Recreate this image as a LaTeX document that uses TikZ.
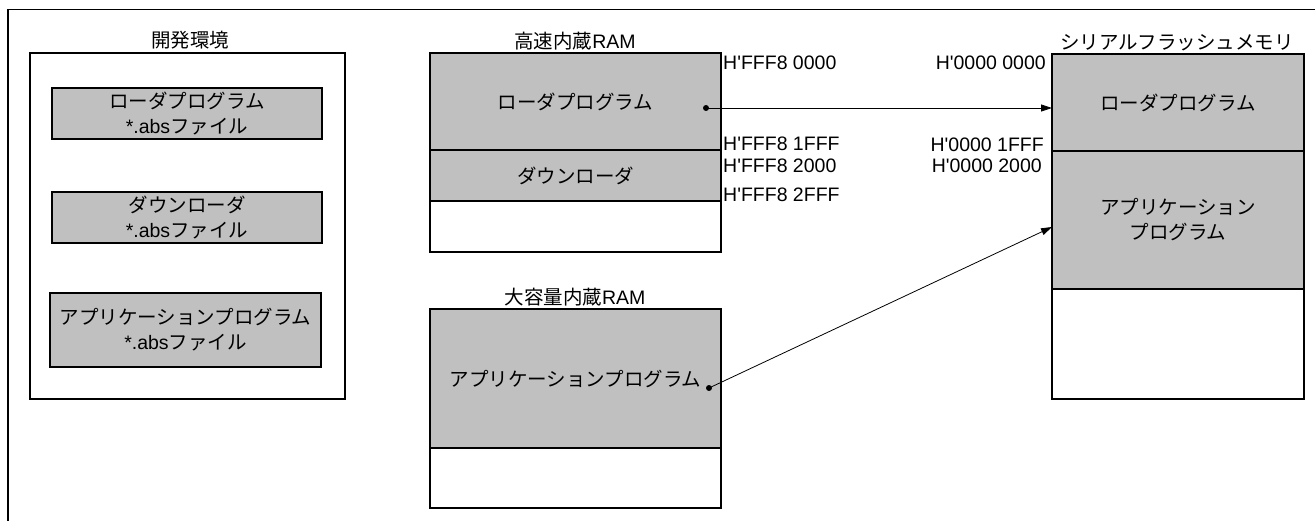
\documentclass[tikz,border=0pt]{standalone}
\usepackage{fontspec}
\setmainfont{Liberation Sans}
\newfontfamily\jp{Noto Sans CJK JP}
\usetikzlibrary{arrows.meta}
\definecolor{memgray}{RGB}{192,192,192}
\newcommand\apos{\textquotesingle}
\begin{document}
\begin{tikzpicture}[x=1pt,y=-1pt,
  every node/.style={font=\fontsize{19.5}{25}\selectfont},
  region/.style={draw, line width=1.3pt, inner sep=0pt, outer sep=0pt, anchor=north west, align=center},
  grayreg/.style={region, fill=memgray},
  whitereg/.style={region, fill=white},
  ttl/.style={inner sep=0pt},
  addrL/.style={inner sep=0pt, anchor=west},
  addrR/.style={inner sep=0pt, anchor=east},
  dotmark/.style={circle, fill=black, inner sep=0pt, minimum size=6pt},
  conn/.style={line width=0.8pt, -{Triangle[length=11pt,width=7pt]}}
]
\useasboundingbox (0,0) rectangle (1315,521);
\fill[white] (0,0) rectangle (1315,521);
% outer frame
\draw[line width=1.5pt] (8,521) -- (8,9.5) -- (1315,9.5);

% development environment
\node[ttl] (devT) at (190,40) {\jp 開発環境};
\node[whitereg, minimum width=315pt, minimum height=346pt] (dev) at (30,53) {};
\node[grayreg, minimum width=270pt, minimum height=51pt] (devA) at (52,88) {{\jp ローダプログラム}\\*.abs{\jp ファイル}};
\node[grayreg, minimum width=270pt, minimum height=51pt] (devB) at (52,192) {{\jp ダウンローダ}\\*.abs{\jp ファイル}};
\node[grayreg, minimum width=271pt, minimum height=74pt] (devC) at (50,293) {{\jp アプリケーションプログラム}\\*.abs{\jp ファイル}};

% high-speed RAM
\node[ttl] (hsT) at (575,41) {{\jp 高速内蔵}RAM};
\node[grayreg, minimum width=291pt, minimum height=97pt] (hsA) at (430,53) {\jp ローダプログラム};
\node[grayreg, minimum width=291pt, minimum height=51pt] (hsB) at (430,150) {\jp ダウンローダ};
\node[whitereg, minimum width=291pt, minimum height=51pt] (hsC) at (430,201) {};
\node[addrL] (a1) at (723,63) {H\apos FFF8 0000};
\node[addrL] (a2) at (723,144) {H\apos FFF8 1FFF};
\node[addrL] (a3) at (723,166) {H\apos FFF8 2000};
\node[addrL] (a4) at (723,195) {H\apos FFF8 2FFF};

% large RAM
\node[ttl] (lgT) at (575,297) {{\jp 大容量内蔵}RAM};
\node[grayreg, minimum width=291pt, minimum height=139pt] (lgA) at (430,309) {\jp アプリケーションプログラム};
\node[whitereg, minimum width=291pt, minimum height=60pt] (lgB) at (430,448) {};

% serial flash
\node[ttl] (flT) at (1177,43) {\jp シリアルフラッシュメモリ};
\node[grayreg, minimum width=252pt, minimum height=97pt] (flA) at (1052,54) {\jp ローダプログラム};
\node[grayreg, minimum width=252pt, minimum height=138pt] (flB) at (1052,151) {{\jp アプリケーション}\\{\jp プログラム}};
\node[whitereg, minimum width=252pt, minimum height=110pt] (flC) at (1052,289) {};
\node[addrR] (b1) at (1046,63) {H\apos 0000 0000};
\node[addrR] (b2) at (1044,145) {H\apos 0000 1FFF};
\node[addrR] (b3) at (1042,166) {H\apos 0000 2000};

% connectors
\node[dotmark] (d1) at (706,108) {};
\node[dotmark] (d2) at (709,388) {};
\coordinate (e1) at (flA.west |- d1);
\coordinate (e2) at ([yshift=-7pt]flB.west);
\draw[conn] (d1.center) -- (e1);
\draw[conn] (d2.center) -- (e2);
\end{tikzpicture}
\end{document}
